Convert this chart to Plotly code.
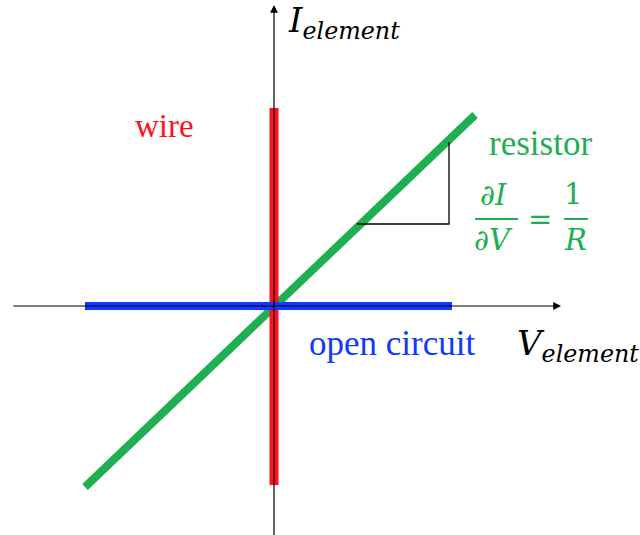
import plotly.graph_objects as go

# Data (units: arbitrary V / I)
wire_v = [0.0, 0.0]
wire_i = [-1.79, 1.98]
open_v = [-1.89, 1.78]
open_i = [0.0, 0.0]
res_v = [-1.89, 2.01]
res_i = [-1.81, 1.91]
tri_v = [0.83, 1.75, 1.75]
tri_i = [0.82, 0.82, 1.64]

RED = "#FF1020"
BLUE = "#1038FF"
GREEN = "#1DAF50"
SERIF = "'Liberation Serif', 'Times New Roman', Times, serif"
MATH = "'DejaVu Serif', 'Liberation Serif', serif"

fig = go.Figure()
fig.add_trace(go.Scatter(x=res_v, y=res_i, mode="lines", line=dict(color=GREEN, width=8)))
fig.add_trace(go.Scatter(x=tri_v, y=tri_i, mode="lines", line=dict(color="black", width=1.3)))
fig.add_trace(go.Scatter(x=wire_v, y=wire_i, mode="lines", line=dict(color=RED, width=9)))
fig.add_trace(go.Scatter(x=open_v, y=open_i, mode="lines", line=dict(color=BLUE, width=8)))

ann = []
# axes with arrows
ann.append(dict(x=2.87, y=0, ax=-2.62, ay=0, xref="x", yref="y", axref="x", ayref="y",
                showarrow=True, arrowhead=2, arrowsize=1.3, arrowwidth=1.2, arrowcolor="black", text=""))
ann.append(dict(x=0, y=3.01, ax=0, ay=-2.32, xref="x", yref="y", axref="x", ayref="y",
                showarrow=True, arrowhead=2, arrowsize=1.3, arrowwidth=1.2, arrowcolor="black", text=""))

def txt(x, y, t, color, size, family, xanchor="center", italic=False):
    ann.append(dict(x=x, y=y, xref="x", yref="y", text=t, showarrow=False,
                    xanchor=xanchor, yanchor="middle", borderpad=0,
                    font=dict(color=color, size=size, family=family,
                              style="italic" if italic else "normal")))

txt(0.13, 2.84, "I<sub>element</sub>", "black", 34, MATH, xanchor="left", italic=True)
txt(2.42, -0.39, "V<sub>element</sub>", "black", 34, MATH, xanchor="left", italic=True)
txt(-1.10, 1.805, "wire", RED, 33, SERIF)
txt(2.66, 1.625, "resistor", GREEN, 35, SERIF)
txt(1.18, -0.375, "open circuit", BLUE, 35, SERIF)
txt(2.19, 1.11, "∂I", GREEN, 29, MATH, italic=True)
txt(2.19, 0.66, "∂V", GREEN, 29, MATH, italic=True)
txt(2.66, 0.87, "=", GREEN, 29, MATH)
txt(2.99, 1.12, "1", GREEN, 29, MATH)
txt(3.01, 0.66, "R", GREEN, 29, MATH, italic=True)

shapes = [
    dict(type="line", xref="x", yref="y", x0=2.01, x1=2.44, y0=0.87, y1=0.87, line=dict(color=GREEN, width=2)),
    dict(type="line", xref="x", yref="y", x0=2.90, x1=3.14, y0=0.87, y1=0.87, line=dict(color=GREEN, width=2)),
]

fig.update_layout(
    width=640, height=535, margin=dict(l=0, r=0, t=0, b=0),
    paper_bgcolor="white", plot_bgcolor="white", showlegend=False,
    xaxis=dict(range=[-2.74, 3.66], visible=False, fixedrange=True),
    yaxis=dict(range=[-2.29, 3.06], visible=False, fixedrange=True),
    annotations=ann, shapes=shapes,
)
fig.write_html("out.html", config={"displayModeBar": False},
               post_script="document.body.style.margin='0';")
